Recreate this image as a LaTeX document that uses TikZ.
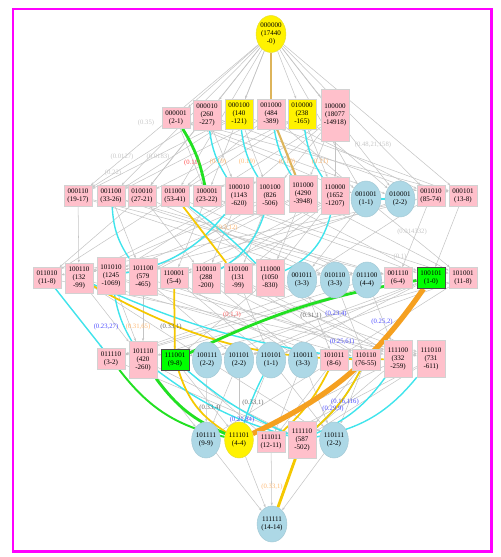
\documentclass[tikz,border=0pt]{standalone}
\usepackage{fontspec}
\setmainfont{Liberation Serif}
\usepackage{xcolor}
\usepackage{tikz}
\usetikzlibrary{shapes.geometric, arrows.meta, backgrounds}

\definecolor{pinkbox}{HTML}{FFC0CB}
\definecolor{bluebell}{HTML}{ADD8E6}
\definecolor{linkgray}{HTML}{C4C4C4}
\definecolor{hlcyan}{HTML}{40E4EC}
\definecolor{hlyellow}{HTML}{F5C800}
\definecolor{hltan}{HTML}{DDB45A}
\definecolor{hlorange}{HTML}{F5A020}
\definecolor{hlgreen}{HTML}{22E022}
\definecolor{framemag}{HTML}{FF00FF}

\begin{document}
\begin{tikzpicture}[
    x=0.02cm, y=-0.02cm,
    % ── Node styles ──────────────────────────────────────────────────
    lat/.style={
        inner sep=0pt, align=center,
        font=\fontsize{4}{4.6}\selectfont
    },
    pbox/.style={lat, rectangle, fill=pinkbox, draw=gray!35, line width=0.3pt,
                 minimum width=0.56cm, minimum height=0.42cm},
    ybox/.style={pbox, fill=yellow},
    gbox/.style={pbox, fill=green, draw=black!70, line width=0.5pt},
    bell/.style={lat, ellipse, fill=bluebell, draw=bluebell!85!gray, line width=0.3pt,
                 minimum width=0.57cm, minimum height=0.72cm},
    yell/.style={bell, fill=yellow, draw=yellow!80!gray},
    tall/.style={minimum height=0.6cm},
    taller/.style={minimum height=0.74cm},
    % ── Edges ────────────────────────────────────────────────────────
    link/.style={draw=linkgray, line width=0.3pt,
                 -{Stealth[length=1.8pt, width=1.3pt]}},
    cyanlink/.style={draw=hlcyan, line width=0.8pt},
    yellink/.style={draw=hlyellow, line width=1pt},
    tanlink/.style={draw=hltan, line width=1.2pt},
    greenlink/.style={draw=hlgreen, line width=1.6pt},
    orangelink/.style={draw=hlorange, line width=3pt},
    % ── Edge labels ──────────────────────────────────────────────────
    lbl/.style={inner sep=0pt, font=\fontsize{3.8}{4.4}\selectfont}
]

\useasboundingbox (0,0) rectangle (500,557);
\draw[framemag, line width=1.7pt] (13,9) rectangle (491,551);

% ══════════════════════════════════════════════════════════════════════
% NODE PLACEMENT
% ══════════════════════════════════════════════════════════════════════

    % ── Level 0 ──
    \node[yell, minimum height=0.74cm] (n000000) at (271,34) {000000\\(17440\\-0)};

    % ── Level 1 ──
    \node[pbox]               (n000001) at (176,118) {000001\\(2-1)};
    \node[pbox, tall]         (n000010) at (207,115) {000010\\(260\\-227)};
    \node[ybox, tall]         (n000100) at (239,114) {000100\\(140\\-121)};
    \node[pbox, tall]         (n001000) at (271,114) {001000\\(484\\-389)};
    \node[ybox, tall]         (n010000) at (302,114) {010000\\(238\\-165)};
    \node[pbox, minimum height=1.04cm] (n100000) at (335,115) {100000\\(18077\\-14918)};

    % ── Level 2 ──
    \node[pbox]         (n000110) at (78,196)  {000110\\(19-17)};
    \node[pbox]         (n001100) at (111,196) {001100\\(33-26)};
    \node[pbox]         (n010010) at (142,196) {010010\\(27-21)};
    \node[pbox]         (n011000) at (175,196) {011000\\(53-41)};
    \node[pbox]         (n100001) at (207,196) {100001\\(23-22)};
    \node[pbox, taller] (n100010) at (239,196) {100010\\(1143\\-620)};
    \node[pbox, taller] (n100100) at (270,196) {100100\\(826\\-506)};
    \node[pbox, taller] (n101000) at (303,194) {101000\\(4290\\-3948)};
    \node[pbox, taller] (n110000) at (335,196) {110000\\(1652\\-1207)};
    \node[bell]         (n001001) at (366,199) {001001\\(1-1)};
    \node[bell]         (n010001) at (400,199) {010001\\(2-2)};
    \node[pbox]         (n001010) at (431,196) {001010\\(85-74)};
    \node[pbox]         (n000101) at (463,196) {000101\\(13-8)};

    % ── Level 3 ──
    \node[pbox]         (n011010) at (47,278)  {011010\\(11-8)};
    \node[pbox, tall]   (n100110) at (79,278)  {100110\\(132\\-99)};
    \node[pbox, taller] (n101010) at (111,276) {101010\\(1245\\-1069)};
    \node[pbox, taller] (n101100) at (143,277) {101100\\(579\\-465)};
    \node[pbox]         (n110001) at (174,278) {110001\\(5-4)};
    \node[pbox, tall]   (n110010) at (206,278) {110010\\(288\\-200)};
    \node[pbox, tall]   (n110100) at (238,278) {110100\\(131\\-99)};
    \node[pbox, taller] (n111000) at (270,278) {111000\\(1050\\-830)};
    \node[bell]         (n001011) at (302,280) {001011\\(3-3)};
    \node[bell]         (n010110) at (335,280) {010110\\(3-3)};
    \node[bell]         (n011100) at (367,280) {011100\\(4-4)};
    \node[pbox]         (n001110) at (398,278) {001110\\(6-4)};
    \node[gbox]         (n100101) at (431,278) {100101\\(1-0)};
    \node[pbox]         (n101001) at (463,278) {101001\\(11-8)};

    % ── Level 4 ──
    \node[pbox]         (n011110) at (111,359) {011110\\(3-2)};
    \node[pbox, taller] (n101110) at (143,360) {101110\\(420\\-260)};
    \node[gbox]         (n111001) at (175,360) {111001\\(9-8)};
    \node[bell]         (n100111) at (207,360) {100111\\(2-2)};
    \node[bell]         (n101101) at (239,360) {101101\\(2-2)};
    \node[bell]         (n110101) at (271,360) {110101\\(1-1)};
    \node[bell]         (n110011) at (303,360) {110011\\(3-3)};
    \node[pbox]         (n101011) at (334,360) {101011\\(8-6)};
    \node[pbox]         (n110110) at (366,360) {110110\\(76-55)};
    \node[pbox, taller] (n111100) at (398,359) {111100\\(332\\-259)};
    \node[pbox, taller] (n111010) at (431,359) {111010\\(731\\-611)};

    % ── Level 5 ──
    \node[bell]         (n101111) at (206,440) {101111\\(9-9)};
    \node[yell]         (n111101) at (239,440) {111101\\(4-4)};
    \node[pbox]         (n111011) at (271,442) {111011\\(12-11)};
    \node[pbox, taller] (n111110) at (302,440) {111110\\(587\\-502)};
    \node[bell]         (n110111) at (334,440) {110111\\(2-2)};

    % ── Level 6 ──
    \node[bell]         (n111111) at (272,524) {111111\\(14-14)};

% ══════════════════════════════════════════════════════════════════════
% CONNECTIONS
% ══════════════════════════════════════════════════════════════════════
\begin{scope}[on background layer]

    % ── plain lattice links ──
    \foreach \a/\b in {000000/000001, 000000/000010, 000000/000100, 000000/001000,
                       000000/010000, 000000/100000, 000000/000110, 000000/001100,
                       000000/010010, 000000/011000, 000000/100001, 000000/001001,
                       000000/010001, 000000/001010, 000000/000101,
                       000010/000110, 000100/000110, 000100/001100, 001000/001100,
                       000010/010010, 010000/010010, 001000/011000, 010000/011000,
                       000001/100001, 100000/100001, 000010/100010, 100000/100010,
                       000100/100100, 100000/100100, 001000/101000, 100000/101000,
                       010000/110000, 100000/110000, 000001/001001, 001000/001001,
                       000001/010001, 010000/010001, 000010/001010, 001000/001010,
                       000001/000101, 000100/000101}
        \draw[link] (n\a) -- (n\b);

    \foreach \a/\b in {011000/011010, 010010/011010, 001010/011010,
                       100100/100110, 100010/100110, 000110/100110,
                       101000/101010, 100010/101010, 001010/101010,
                       101000/101100, 100100/101100, 001100/101100,
                       110000/110001, 100001/110001, 010001/110001,
                       110000/110010, 100010/110010, 010010/110010,
                       110000/110100, 100100/110100,
                       110000/111000, 101000/111000, 011000/111000,
                       001010/001011, 001001/001011,
                       010010/010110, 000110/010110,
                       011000/011100, 001100/011100,
                       001100/001110, 001010/001110, 000110/001110,
                       100100/100101, 100001/100101, 000101/100101,
                       101000/101001, 100001/101001, 001001/101001}
        \draw[link] (n\a) -- (n\b);

    \foreach \a/\b in {011100/011110, 011010/011110, 010110/011110, 001110/011110,
                       101100/101110, 101010/101110, 100110/101110, 001110/101110,
                       111000/111001, 110001/111001, 101001/111001,
                       100110/100111, 100101/100111,
                       101100/101101, 101001/101101, 100101/101101,
                       110100/110101, 110001/110101, 100101/110101,
                       110010/110011, 110001/110011,
                       101010/101011, 101001/101011, 001011/101011,
                       110100/110110, 110010/110110, 100110/110110, 010110/110110,
                       111000/111100, 110100/111100, 101100/111100, 011100/111100,
                       111000/111010, 110010/111010, 101010/111010, 011010/111010}
        \draw[link] (n\a) -- (n\b);

    \foreach \a/\b in {101110/101111, 101101/101111, 101011/101111, 100111/101111,
                       111100/111101, 111001/111101, 110101/111101, 101101/111101,
                       111010/111011, 111001/111011, 110011/111011, 101011/111011,
                       111100/111110, 111010/111110, 110110/111110, 101110/111110,
                       011110/111110,
                       110110/110111, 110101/110111, 110011/110111, 100111/110111,
                       101111/111111, 111101/111111, 111011/111111, 111110/111111,
                       110111/111111}
        \draw[link] (n\a) -- (n\b);

    % ── highlighted links ──
    \draw[cyanlink] (n000010) to[bend right=12] (n100010);
    \draw[cyanlink] (n000100) to[bend right=12] (n100100);
    \draw[cyanlink] (n001000) to[bend right=10] (n101000);
    \draw[cyanlink] (n010000) to[bend right=12] (n110000);
    \draw[cyanlink] (n011000) to[bend left=5] (n111000);
    \draw[cyanlink] (n001100) to[bend right=15] (n101100);
    \draw[cyanlink] (n100010) to[bend left=20] (n101010);
    \draw[cyanlink] (n100100) to[bend left=20] (n110010);
    \draw[cyanlink] (n110000) to[bend left=25] (n111000);
    \draw[cyanlink] (n001001) -- (n010001);
    \draw[cyanlink] (n011010) -- (n011110);
    \draw[cyanlink] (n101010) to[bend right=10] (n101110);
    \draw[cyanlink] (n100110) to[bend right=8] (n110110);
    \draw[cyanlink] (n101110) to[bend right=10] (n111110);
    \draw[cyanlink] (n111001) to[bend right=8] (n111110);
    \draw[cyanlink] (n110101) to[bend right=5] (n111101);
    \draw[cyanlink] (n111100) to[bend left=15] (n111110);
    \draw[cyanlink] (n111010) to[bend left=20] (n111110);
    \draw[cyanlink] (n110110) to[bend left=10] (n111110);
    \draw[cyanlink] (n111110) -- (n111111);

    \draw[tanlink]    (n000000) -- (n001000);
    \draw[tanlink]    (n001000) -- (n101000);
    \draw[yellink]    (n011000) -- (n110100);
    \draw[yellink]    (n110001) -- (n111001);
    \draw[yellink]    (n100110) to[bend right=15] (n111100);
    \draw[yellink]    (n111001) to[bend right=20] (n111101);
    \draw[yellink]    (n101011) to[bend left=10] (n111011);
    \draw[yellink]    (n110110) to[bend left=10] (n111110);
    \draw[yellink, line width=1.6pt] (n111110) -- (n111111);

    \draw[greenlink]  (n000001) to[bend left=10] (n100001);
    \draw[greenlink]  (n111001) to[bend left=8] (n100101);
    \draw[greenlink]  (n101110) to[bend right=15] (n111101);
    \draw[greenlink, line width=1.1pt] (n011110) to[bend right=20] (n111101);

    \draw[orangelink] (n100101) to[bend left=15] (n111101);

\end{scope}

% ══════════════════════════════════════════════════════════════════════
% EDGE LABELS
% ══════════════════════════════════════════════════════════════════════
    \node[lbl, text=gray!45]   (l01) at (146,123) {(0.35)};
    \node[lbl, text=gray!45]   (l02) at (122,157) {(0.0127)};
    \node[lbl, text=gray!45]   (l03) at (158,157) {(0.0183)};
    \node[lbl, text=gray!45]   (l04) at (113,173) {(0.22)};
    \node[lbl, text=red!70]    (l05) at (192,163) {(0.11)};
    \node[lbl, text=orange!55] (l06) at (218,162) {(0.19)};
    \node[lbl, text=orange!55] (l07) at (247,162) {(0.19)};
    \node[lbl, text=orange!55] (l08) at (287,162) {(0.19)};
    \node[lbl, text=orange!55] (l09) at (320,162) {(0.21)};
    \node[lbl, text=gray!45]   (l10) at (373,145) {(0.48,21,158)};
    \node[lbl, text=gray!45]   (l11) at (412,232) {(0.014332)};
    \node[lbl, text=gray!45]   (l12) at (400,257) {(0.1)};
    \node[lbl, text=orange!55] (l13) at (227,228) {(0.3,12)};
    \node[lbl, text=blue!70]   (l14) at (106,327) {(0.23,27)};
    \node[lbl, text=orange!55] (l15) at (138,327) {(0.31,65)};
    \node[lbl, text=black!60]  (l16) at (171,327) {(0.33,1)};
    \node[lbl, text=red!60]    (l17) at (232,315) {(0.1,3)};
    \node[lbl, text=black!60]  (l18) at (311,316) {(0.31,1)};
    \node[lbl, text=blue!70]   (l19) at (336,314) {(0.23,4)};
    \node[lbl, text=blue!70]   (l20) at (382,322) {(0.25,2)};
    \node[lbl, text=blue!70]   (l21) at (342,342) {(0.25,61)};
    \node[lbl, text=black!60]  (l22) at (253,403) {(0.33,1)};
    \node[lbl, text=black!60]  (l23) at (210,408) {(0.33,4)};
    \node[lbl, text=blue!70]   (l24) at (242,420) {(0.21,84)};
    \node[lbl, text=blue!70]   (l25) at (345,402) {(0.16,116)};
    \node[lbl, text=blue!70]   (l26) at (333,409) {(0.29,9)};
    \node[lbl, text=orange!55] (l27) at (272,487) {(0.33,1)};

\end{tikzpicture}
\end{document}
